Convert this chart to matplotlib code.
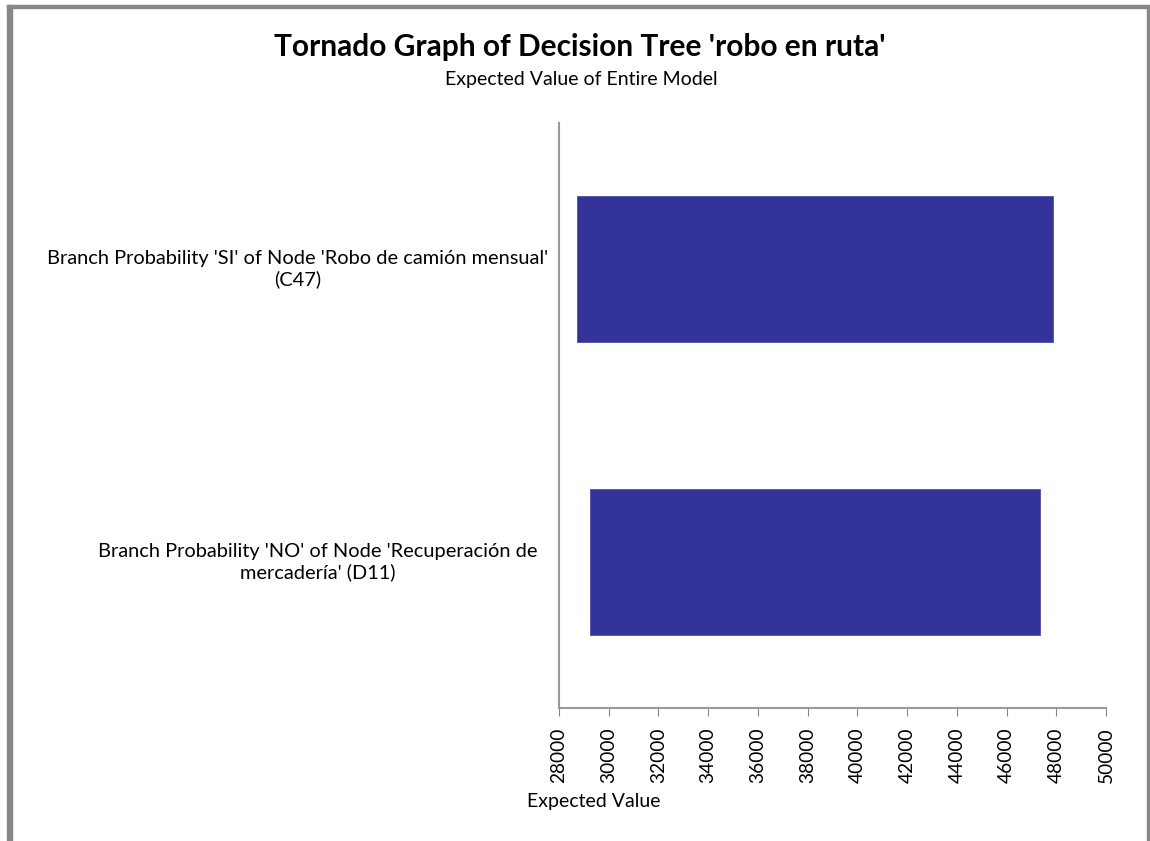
import matplotlib.pyplot as plt
from matplotlib.patches import Rectangle
from matplotlib.transforms import blended_transform_factory

plt.rcParams["font.family"] = ["Lato", "DejaVu Sans"]

categories = [
    "Branch Probability 'SI' of Node 'Robo de camión mensual'\n(C47)",
    "Branch Probability 'NO' of Node 'Recuperación de\nmercadería' (D11)",
]
low_values = [28720, 29250]
high_values = [47870, 47350]
ticks = list(range(28000, 50001, 2000))

W, H = 1150, 841
fig = plt.figure(figsize=(W / 100, H / 100), dpi=100)

# chart frame (gray border on left, top, right)
fig.patches.append(Rectangle((7 / W, 0), 5 / W, 1 - 5 / H, transform=fig.transFigure,
                             color="#888888", zorder=0))
fig.patches.append(Rectangle((7 / W, 1 - 8 / H), 1 - 7 / W, 3 / H, transform=fig.transFigure,
                             color="#888888", zorder=0))
fig.patches.append(Rectangle((1147 / W, 0), 1.5 / W, 1 - 6 / H, transform=fig.transFigure,
                             color="#888888", zorder=0))

ax = fig.add_axes([559 / W, 1 - 708 / H, (1106 - 559) / W, (708 - 123) / H])

ypos = [0, 1]
ax.barh(ypos, [h - l for l, h in zip(low_values, high_values)], left=low_values,
        height=0.5, color="#333399", edgecolor="#4d4daa", linewidth=0.6)

ax.set_ylim(1.5, -0.5)
ax.set_xlim(28000, 50000)
ax.set_xticks(ticks)
ax.set_xticklabels([str(t) for t in ticks], rotation=90, fontsize=13.8)
ax.set_yticks(ypos)
ax.set_yticklabels([])
ax.tick_params(axis="y", length=0)
ax.tick_params(axis="x", length=6, color="#888888", pad=8)

# category labels, wrapped and centred like the original text boxes
trans = blended_transform_factory(fig.transFigure, ax.transData)
label_x = [298, 318]
for y, lab, lx in zip(ypos, categories, label_x):
    ax.text(lx / W, y, lab, transform=trans, ha="center", va="center",
            fontsize=14.4, linespacing=1.2, clip_on=False)

for s in ["top", "right"]:
    ax.spines[s].set_visible(False)
for s in ["left", "bottom"]:
    ax.spines[s].set_color("#999999")
    ax.spines[s].set_linewidth(1.5)

fig.text(580 / W, 1 - 47 / H, "Tornado Graph of Decision Tree 'robo en ruta'",
         ha="center", va="center", fontsize=21.5, fontweight="bold")
fig.text(581 / W, 1 - 80 / H, "Expected Value of Entire Model",
         ha="center", va="center", fontsize=14)
fig.text(594 / W, 1 - 801 / H, "Expected Value", ha="center", va="center", fontsize=14)

fig.savefig("out.png", dpi=100)
